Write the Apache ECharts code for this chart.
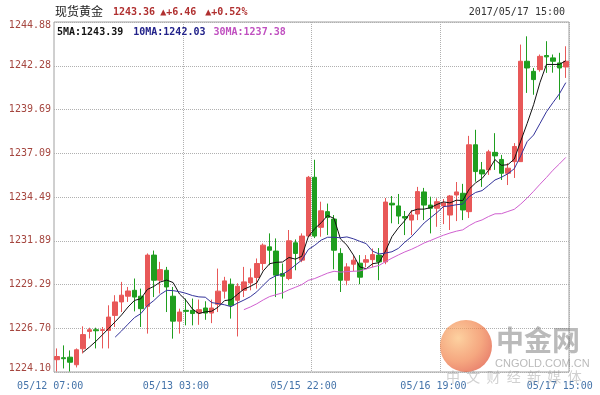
<!DOCTYPE html>
<html>
<head>
<meta charset="utf-8">
<script src="https://cdn.jsdelivr.net/npm/echarts@6/dist/echarts.min.js"></script>
<style>html,body{margin:0;padding:0;background:#fff}#c{width:600px;height:395px}</style>
</head>
<body>
<div id="c"></div>
<script>
const categories = [
 '05/12 07:00','05/12 08:00','05/12 09:00','05/12 10:00','05/12 11:00','05/12 12:00','05/12 13:00','05/12 14:00','05/12 15:00','05/12 16:00','05/12 17:00','05/12 18:00','05/12 19:00','05/12 20:00','05/12 21:00','05/12 22:00','05/12 23:00',
 '05/13 00:00','05/13 01:00','05/13 02:00','05/13 03:00','05/13 04:00',
 '05/15 04:00','05/15 05:00','05/15 06:00','05/15 07:00','05/15 08:00','05/15 09:00','05/15 10:00','05/15 11:00','05/15 12:00','05/15 13:00','05/15 14:00','05/15 15:00','05/15 16:00','05/15 17:00','05/15 18:00','05/15 19:00','05/15 20:00','05/15 21:00','05/15 22:00','05/15 23:00',
 '05/16 00:00','05/16 01:00','05/16 02:00','05/16 03:00','05/16 04:00','05/16 06:00','05/16 07:00','05/16 08:00','05/16 09:00','05/16 10:00','05/16 11:00','05/16 12:00','05/16 13:00','05/16 14:00','05/16 15:00','05/16 16:00','05/16 17:00','05/16 18:00','05/16 19:00','05/16 20:00','05/16 21:00','05/16 22:00','05/16 23:00',
 '05/17 00:00','05/17 01:00','05/17 02:00','05/17 03:00','05/17 04:00','05/17 06:00','05/17 07:00','05/17 08:00','05/17 09:00','05/17 10:00','05/17 11:00','05/17 12:00','05/17 13:00','05/17 14:00','05/17 15:00'
];

const opens = [1224.83,1224.95,1224.98,1224.53,1225.48,1226.51,1226.61,1226.57,1226.57,1227.46,
 1228.26,1228.60,1228.95,1228.60,1228.00,1231.04,1229.55,1230.14,1228.60,1227.12,
 1227.76,1227.76,1227.60,1227.90,1227.60,1228.12,1228.90,1229.31,1228.36,1228.95,
 1229.39,1229.71,1230.54,1231.53,1231.28,1229.95,1229.65,1231.77,1230.74,1232.17,
 1235.66,1232.69,1233.62,1233.18,1231.14,1229.55,1230.50,1230.56,1230.62,1230.77,
 1231.04,1230.64,1234.12,1233.96,1233.33,1233.12,1233.48,1234.79,1234.01,1233.82,
 1233.96,1233.42,1234.61,1234.71,1233.62,1237.59,1236.10,1236.10,1237.14,1236.72,
 1235.90,1236.59,1236.59,1242.55,1241.95,1242.05,1242.89,1242.75,1242.45,1242.21];

const closes = [1225.02,1224.89,1224.68,1225.42,1226.32,1226.61,1226.55,1226.61,1227.36,1228.26,
 1228.66,1228.91,1228.55,1227.86,1231.04,1229.55,1230.18,1229.15,1227.12,1227.66,
 1227.70,1227.57,1227.80,1227.60,1227.90,1228.90,1229.51,1228.06,1229.19,1229.45,
 1229.69,1230.54,1231.63,1231.33,1229.85,1229.79,1231.89,1231.14,1232.17,1235.66,
 1232.17,1233.67,1233.28,1231.33,1229.55,1230.34,1230.74,1229.73,1230.77,1231.07,
 1230.64,1234.19,1234.02,1233.36,1233.24,1233.42,1234.81,1234.01,1233.82,1234.21,
 1234.13,1234.55,1234.79,1233.72,1237.59,1236.00,1235.86,1237.17,1236.93,1235.90,
 1236.20,1237.49,1242.55,1242.15,1241.46,1242.84,1242.81,1242.55,1242.15,1242.55];

const highs = [1225.50,1225.68,1225.38,1225.50,1226.81,1226.73,1226.73,1226.77,1228.06,1228.66,
 1229.45,1229.15,1229.65,1229.05,1231.14,1231.31,1230.64,1230.34,1229.15,1227.86,
 1228.46,1228.46,1228.40,1228.30,1228.40,1230.24,1229.75,1229.65,1229.37,1230.34,
 1230.24,1230.84,1231.73,1232.33,1232.03,1230.54,1232.53,1231.97,1232.33,1235.74,
 1236.70,1234.21,1234.10,1233.42,1231.45,1230.56,1230.98,1231.04,1231.04,1231.43,
 1231.46,1234.43,1234.55,1234.67,1233.66,1233.72,1235.09,1235.03,1234.51,1234.41,
 1234.37,1234.61,1235.38,1235.27,1238.12,1238.48,1236.57,1237.29,1238.28,1236.99,
 1236.50,1237.69,1243.54,1244.03,1242.15,1242.95,1243.74,1242.95,1243.05,1243.44];

const lows = [1224.13,1224.31,1224.13,1224.37,1225.20,1226.09,1225.50,1225.50,1225.50,1226.77,
 1227.66,1228.26,1227.70,1226.77,1226.38,1228.55,1228.76,1227.66,1226.08,1226.38,
 1226.87,1226.87,1226.90,1227.20,1227.00,1227.66,1228.46,1227.27,1226.21,1228.55,
 1228.95,1229.05,1230.14,1230.44,1228.55,1228.46,1229.55,1230.14,1230.62,1232.11,
 1232.05,1232.13,1232.23,1230.20,1228.85,1229.25,1230.08,1229.31,1230.32,1230.32,
 1229.55,1230.50,1232.93,1232.88,1232.23,1232.23,1233.12,1233.12,1232.33,1232.72,
 1232.88,1232.53,1233.06,1233.12,1233.24,1235.40,1235.09,1235.80,1236.10,1235.50,
 1235.20,1235.62,1236.57,1240.67,1240.56,1241.93,1241.86,1241.87,1240.27,1241.56];

const ma5 = ['-','-','-','-',1225.27,1225.58,1225.92,1226.30,1226.69,1227.08,
 1227.49,1227.96,1228.35,1228.45,1229.00,1229.18,1229.44,1229.56,1229.41,1228.73,
 1228.36,1227.84,1227.57,1227.67,1227.71,1227.95,1228.34,1228.39,1228.71,1229.02,
 1229.18,1229.39,1230.10,1230.53,1230.61,1230.63,1230.90,1230.80,1230.97,1232.13,
 1232.61,1232.96,1233.39,1233.22,1232.00,1231.63,1231.05,1230.34,1230.23,1230.53,
 1230.59,1231.28,1232.14,1232.66,1233.09,1233.65,1233.77,1233.77,1233.86,1234.05,
 1234.20,1234.14,1234.30,1234.28,1234.96,1235.33,1235.59,1236.07,1236.71,1236.37,
 1236.41,1236.74,1237.81,1238.86,1239.97,1241.30,1242.36,1242.36,1242.36,1242.58];

const ma10 = ['-','-','-','-','-','-','-','-','-',1226.17,
 1226.54,1226.94,1227.33,1227.57,1228.04,1228.34,1228.70,1228.95,1228.93,1228.87,
 1228.77,1228.64,1228.56,1228.54,1228.22,1228.16,1228.09,1227.98,1228.19,1228.37,
 1228.57,1228.86,1229.25,1229.62,1229.82,1229.90,1230.14,1230.45,1230.75,1231.37,
 1231.62,1231.93,1232.10,1232.10,1232.07,1232.12,1232.01,1231.86,1231.72,1231.27,
 1231.11,1231.16,1231.24,1231.44,1231.81,1232.12,1232.53,1232.95,1233.26,1233.57,
 1233.92,1233.96,1234.03,1234.07,1234.51,1234.76,1234.87,1235.18,1235.50,1235.66,
 1235.87,1236.17,1236.94,1237.78,1238.17,1238.86,1239.55,1240.09,1240.61,1241.28];

const ma30 = ['-','-','-','-','-','-','-','-','-','-',
 '-','-','-','-','-','-','-','-','-','-',
 '-','-','-','-','-','-','-','-','-',1227.80,
 1227.96,1228.15,1228.38,1228.58,1228.69,1228.80,1228.98,1229.13,1229.29,1229.54,
 1229.65,1229.81,1229.97,1230.08,1230.03,1230.06,1230.08,1230.10,1230.22,1230.33,
 1230.43,1230.65,1230.86,1231.05,1231.23,1231.38,1231.56,1231.76,1231.91,1232.07,
 1232.22,1232.35,1232.46,1232.54,1232.79,1233.00,1233.13,1233.33,1233.49,1233.50,
 1233.63,1233.76,1234.07,1234.43,1234.83,1235.25,1235.65,1236.08,1236.45,1236.84];

const yTickLabels = ['1224.10','1226.70','1229.29','1231.89','1234.49','1237.09','1239.69','1242.28','1244.88'];
const xLabelIndices = [0, 20, 40, 60, 79];
const xSplitIndices = [20, 40, 60];

const MONO = 'DejaVu Sans Mono';
const CJK = 'Noto Sans CJK SC';
const candleData = categories.map((_, i) => [opens[i], closes[i], lows[i], highs[i]]);

// horizontal shift (padding-right) of each time label, style only
const xShift = {0: 14, 20: 20, 40: 22, 60: 20, 79: 12};
const xRich = {};
Object.keys(xShift).forEach(k => {
  xRich['s' + k] = {fontFamily: MONO, fontSize: 10, color: '#4574aa', padding: [0, xShift[k], 0, 0]};
});
const yBase = {fontFamily: MONO, fontSize: 10, color: '#a5463f'};

const chart = echarts.init(document.getElementById('c'), null, {renderer: 'canvas'});
chart.setOption({
  animation: false,
  backgroundColor: '#fff',
  title: [
    {text: '现货黄金', left: 55, top: 5, padding: 0,
     textStyle: {fontFamily: CJK, fontSize: 12, fontWeight: 'normal', color: '#222'}},
    {text: '{p|1243.36}{u|▲+6.46}{v|▲+0.52%}', left: 113, top: 7, padding: 0,
     textStyle: {rich: {
       p: {fontFamily: MONO, fontSize: 10, color: '#b03030', padding: [0, 5, 0, 0]},
       u: {fontFamily: MONO, fontSize: 10, color: '#b03030', padding: [0, 9, 0, 0]},
       v: {fontFamily: MONO, fontSize: 10, color: '#b03030'}
     }}},
    {text: '2017/05/17 15:00', right: 35, top: 7, padding: 0,
     textStyle: {fontFamily: MONO, fontSize: 10, fontWeight: 'normal', color: '#333'}},
    {text: '{a|5MA:1243.39}{b|10MA:1242.03}{c|30MA:1237.38}', left: 57, top: 27, padding: 0,
     textStyle: {rich: {
       a: {fontFamily: MONO, fontSize: 10, color: '#111', padding: [0, 10, 0, 0]},
       b: {fontFamily: MONO, fontSize: 10, color: '#22228a', padding: [0, 8, 0, 0]},
       c: {fontFamily: MONO, fontSize: 10, color: '#c050c0'}
     }}}
  ],
  grid: {left: 54, right: 31, top: 22, bottom: 23, show: true, borderColor: '#a0a0a0', borderWidth: 1},
  xAxis: {
    type: 'category',
    data: categories,
    boundaryGap: true,
    axisLine: {show: false},
    axisTick: {show: false},
    splitLine: {show: true, interval: (i) => xSplitIndices.indexOf(i) >= 0,
                lineStyle: {color: '#b0b0b0', type: 'dotted', width: 1}},
    axisLabel: {
      interval: (i) => xLabelIndices.indexOf(i) >= 0,
      margin: 9,
      fontFamily: MONO, fontSize: 10, color: '#4574aa',
      formatter: (v, i) => '{s' + i + '|' + v + '}',
      rich: xRich
    }
  },
  yAxis: [
    {type: 'value', min: 1224.10, max: 1244.88, show: false, scale: true, splitLine: {show: false}},
    {type: 'value', min: 0, max: 8, interval: 1, position: 'left',
     axisLine: {show: false}, axisTick: {show: false},
     splitLine: {show: true, lineStyle: {color: '#b0b0b0', type: 'dotted', width: 1}},
     axisLabel: {
       margin: 3, fontFamily: MONO, fontSize: 10, color: '#a5463f',
       formatter: (v) => {
         const k = Math.round(v);
         const t = yTickLabels[k];
         if (k === 8) return '{top|' + t + '}';
         if (k === 0) return '{bot|' + t + '}';
         return '{n|' + t + '}';
       },
       rich: {
         n: Object.assign({}, yBase),
         top: Object.assign({padding: [7, 0, 0, 0]}, yBase),
         bot: Object.assign({padding: [0, 0, 7, 0]}, yBase)
       }
     }}
  ],
  series: [
    {name: 'K', type: 'candlestick', yAxisIndex: 0, data: candleData, barWidth: 5,
     itemStyle: {color: '#e85858', color0: '#1f9e1f', borderColor: '#e85858', borderColor0: '#1f9e1f', borderWidth: 1}},
    {name: '5MA', type: 'line', yAxisIndex: 0, data: ma5, symbol: 'none', smooth: false,
     lineStyle: {color: '#111', width: 1}, itemStyle: {color: '#111'}},
    {name: '10MA', type: 'line', yAxisIndex: 0, data: ma10, symbol: 'none', smooth: false,
     lineStyle: {color: '#33339a', width: 1}, itemStyle: {color: '#33339a'}},
    {name: '30MA', type: 'line', yAxisIndex: 0, data: ma30, symbol: 'none', smooth: false,
     lineStyle: {color: '#d060d0', width: 1}, itemStyle: {color: '#d060d0'}}
  ],
  graphic: [
    {type: 'circle', shape: {cx: 466, cy: 346, r: 26}, z: 50,
     style: {fill: new echarts.graphic.RadialGradient(0.35, 0.35, 0.75, [
       {offset: 0, color: 'rgba(252,190,120,0.7)'}, {offset: 0.6, color: 'rgba(240,120,60,0.65)'}, {offset: 1, color: 'rgba(220,60,30,0.65)'}])}},
    {type: 'text', left: 496, top: 326, z: 50,
     style: {text: '中金网', font: 'bold 28px "Noto Sans CJK SC"', fill: 'rgba(130,130,130,0.55)'}},
    {type: 'text', left: 495, top: 358, z: 50,
     style: {text: 'CNGOLD.COM.CN', font: '11px "Liberation Sans"', fill: 'rgba(140,140,140,0.6)'}},
    {type: 'text', left: 446, top: 370, z: 50,
     style: {text: '中  文  财  经  新  媒  体', font: '14px "Noto Sans CJK SC"', fill: 'rgba(150,150,150,0.45)'}}
  ]
});
</script>
</body>
</html>
